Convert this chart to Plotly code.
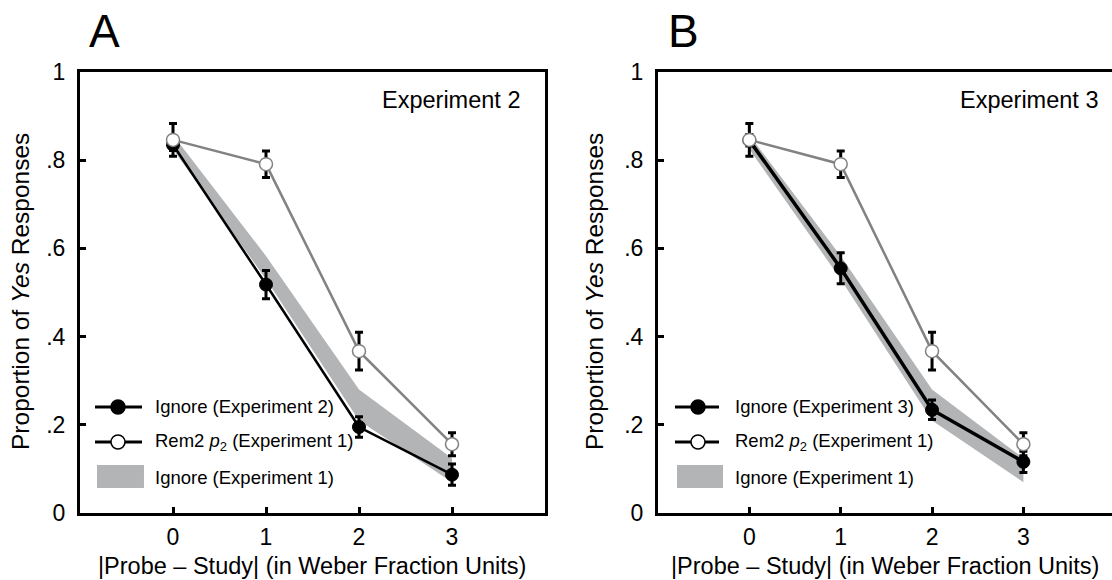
import plotly.graph_objects as go

# ---------------- data ----------------
x_units = [0, 1, 2, 3]
tick_vals_y = [0, 0.2, 0.4, 0.6, 0.8, 1.0]
tick_text_y = ["0", ".2", ".4", ".6", ".8", "1"]
tick_text_x = ["0", "1", "2", "3"]

# Panel A: Ignore (Experiment 2)
ignore_exp2 = [0.835, 0.518, 0.195, 0.087]
ignore_exp2_err = [0.013, 0.032, 0.023, 0.024]
# Panel B: Ignore (Experiment 3)
ignore_exp3 = [0.845, 0.555, 0.234, 0.116]
ignore_exp3_err = [0.013, 0.035, 0.022, 0.024]
# Rem2 p2 (Experiment 1) - both panels
rem2_exp1 = [0.846, 0.791, 0.367, 0.156]
rem2_exp1_err = [0.037, 0.030, 0.043, 0.026]
# Ignore (Experiment 1) band - both panels
ignore_exp1_low = [0.825, 0.530, 0.210, 0.070]
ignore_exp1_high = [0.857, 0.583, 0.280, 0.124]

FONT = "Liberation Sans"
BAND = "#b2b4b6"
GREY = "#828282"
TICK_SIZE = 23

fig = go.Figure()

panels = [
    dict(xa="x", ya="y", black=ignore_exp2, black_err=ignore_exp2_err, bw=2.5,
         exp="Experiment 2", leg="Ignore (Experiment 2)", letter="A"),
    dict(xa="x2", ya="y2", black=ignore_exp3, black_err=ignore_exp3_err, bw=3.5,
         exp="Experiment 3", leg="Ignore (Experiment 3)", letter="B"),
]

for p in panels:
    fig.add_trace(go.Scatter(
        x=x_units + x_units[::-1],
        y=ignore_exp1_high + ignore_exp1_low[::-1],
        fill="toself", fillcolor=BAND, line=dict(width=0), mode="lines",
        hoverinfo="skip", showlegend=False, xaxis=p["xa"], yaxis=p["ya"]))
    fig.add_trace(go.Scatter(
        x=x_units, y=p["black"], mode="lines+markers",
        line=dict(color="black", width=p["bw"]),
        marker=dict(color="black", size=13, line=dict(color="black", width=1)),
        error_y=dict(type="data", array=p["black_err"], color="black", thickness=3, width=4),
        showlegend=False, xaxis=p["xa"], yaxis=p["ya"]))
    fig.add_trace(go.Scatter(
        x=x_units, y=rem2_exp1, mode="lines+markers",
        line=dict(color=GREY, width=2.5),
        marker=dict(color="white", size=13, line=dict(color=GREY, width=1.5)),
        error_y=dict(type="data", array=rem2_exp1_err, color="black", thickness=3, width=4),
        showlegend=False, xaxis=p["xa"], yaxis=p["ya"]))

def tf(s):
    return dict(family=FONT, size=s, color="black")

axis_common = dict(
    showline=True, linewidth=3, linecolor="black", ticks="inside", ticklen=6,
    tickwidth=2.5, tickcolor="black", showgrid=False, zeroline=False,
    automargin=False,
)

fig.update_layout(
    width=1112, height=580,
    margin=dict(l=0, r=0, t=0, b=0, autoexpand=False),
    paper_bgcolor="white", plot_bgcolor="white",
    font=dict(family=FONT, size=TICK_SIZE, color="black"),
    showlegend=False,
    xaxis=dict(domain=[80/1112, 545/1112], range=[-1, 4], tickvals=x_units,
               ticktext=tick_text_x, mirror=True, anchor="y", ticklabelstandoff=1,
               tickfont=tf(TICK_SIZE), **axis_common),
    yaxis=dict(domain=[1-513/580, 1-72/580], range=[0, 1], tickvals=tick_vals_y,
               ticktext=tick_text_y, mirror=True, anchor="x", ticklabelstandoff=7,
               tickfont=tf(TICK_SIZE), **axis_common),
    xaxis2=dict(domain=[658/1112, 1.0], range=[-1, 3.97], tickvals=x_units,
                ticktext=tick_text_x, mirror=True, anchor="y2", ticklabelstandoff=1,
                tickfont=tf(TICK_SIZE), **axis_common),
    yaxis2=dict(domain=[1-513/580, 1-72/580], range=[0, 1], tickvals=tick_vals_y,
                ticktext=tick_text_y, mirror=False, anchor="x2", ticklabelstandoff=7,
                tickfont=tf(TICK_SIZE), **axis_common),
)

ann = []
shapes = []
leg_geo = {
    "x": dict(l0=0.0323, l1=0.1333, mc=0.0817, tx=0.157, b0=0.0366, b1=0.1376),
    "x2": dict(l0=0.0374, l1=0.1344, mc=0.0881, tx=0.1652, b0=0.0419, b1=0.1432),
}
rows = [0.2404, 0.1610, 0.0816]
for p, xt, ytc, exp_x, let_x in [
    (panels[0], 312.5/1112, 20/1112, 522/1112, 104/1112),
    (panels[1], 885/1112, 594/1112, 1100/1112, 683/1112),
]:
    xd = p["xa"] + " domain"
    yd = p["ya"] + " domain"
    g = leg_geo[p["xa"]]
    for i, fill in enumerate(["black", "white"]):
        shapes.append(dict(type="line", xref=xd, yref=yd, x0=g["l0"], x1=g["l1"],
                           y0=rows[i], y1=rows[i], line=dict(color="black", width=3)))
        shapes.append(dict(type="circle", xref=xd, yref=yd, xsizemode="pixel",
                           ysizemode="pixel", xanchor=g["mc"], yanchor=rows[i],
                           x0=-7, x1=7, y0=-7, y1=7, fillcolor=fill,
                           line=dict(color="black", width=1.5)))
    shapes.append(dict(type="rect", xref=xd, yref=yd, x0=g["b0"], x1=g["b1"],
                       y0=0.0567, y1=0.1088, fillcolor=BAND, line=dict(width=0)))
    for txt, yy in zip([p["leg"], "Rem2 <i>p</i><sub>2</sub> (Experiment 1)", "Ignore (Experiment 1)"], rows):
        ann.append(dict(text=txt, xref=xd, yref=yd, x=g["tx"], y=yy, xanchor="left",
                        yanchor="middle", showarrow=False, font=tf(18.5)))
    ann.append(dict(text=p["exp"], xref="paper", yref="paper", x=exp_x, y=1-100/580,
                    xanchor="right", yanchor="middle", showarrow=False, font=tf(23.5)))
    ann.append(dict(text=p["letter"], xref="paper", yref="paper", x=let_x, y=1-31/580,
                    xanchor="center", yanchor="middle", showarrow=False, font=tf(46)))
    ann.append(dict(text="|Probe \u2013 Study| (in Weber Fraction Units)", xref="paper",
                    yref="paper", x=xt, y=0, xanchor="center", yanchor="bottom",
                    borderpad=0, showarrow=False, font=tf(23.5)))
    ann.append(dict(text="Proportion of <i>Yes</i> Responses", xref="paper", yref="paper",
                    x=ytc, y=1-292/580, xanchor="center", yanchor="middle", textangle=-90,
                    showarrow=False, font=tf(24.5)))

fig.update_layout(annotations=ann, shapes=shapes)
fig.write_html("out.html")
